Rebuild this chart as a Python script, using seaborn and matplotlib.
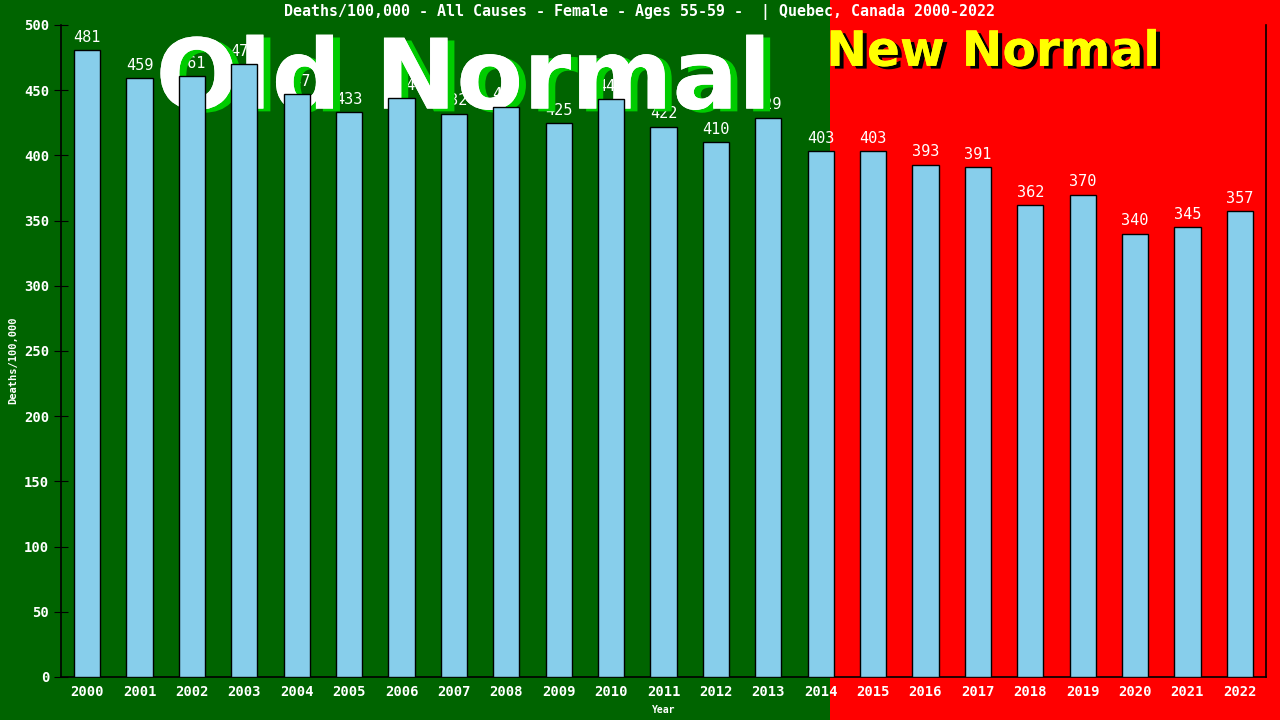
import matplotlib
matplotlib.use("Agg")
import matplotlib.pyplot as plt
import matplotlib.patheffects as pe
from matplotlib.patches import Rectangle
import seaborn as sns
import pandas as pd

# data
years = [str(y) for y in range(2000, 2023)]
deaths = [481, 459, 461, 470, 447, 433, 444, 432, 437, 425, 443, 422, 410, 429,
          403, 403, 393, 391, 362, 370, 340, 345, 357]
yticks = list(range(0, 501, 50))
title = "Deaths/100,000 - All Causes - Female - Ages 55-59 -  | Quebec, Canada 2000-2022"

df = pd.DataFrame({"Year": years, "Deaths": deaths})

sns.set_style("white")
plt.rcParams['font.family'] = ['DejaVu Sans Mono', 'DejaVu Sans']

fig = plt.figure(figsize=(12.8, 7.2), dpi=100)
# background: green "old normal" and red "new normal"
split = 830 / 1280
fig.patches.append(Rectangle((0, 0), split, 1, transform=fig.transFigure,
                             facecolor="#006400", edgecolor="none", zorder=-10))
fig.patches.append(Rectangle((split, 0), 1 - split, 1, transform=fig.transFigure,
                             facecolor="#ff0000", edgecolor="none", zorder=-10))

ax = fig.add_axes([61 / 1280, 43 / 720, 1205 / 1280, 652 / 720])
ax.set_facecolor("none")

sns.barplot(data=df, x="Year", y="Deaths", color="#87CEEB", width=0.5,
            saturation=1, edgecolor="black", linewidth=1, ax=ax, zorder=3)

for i, v in enumerate(deaths):
    ax.text(i, v + 4, str(v), ha="center", va="bottom", color="white",
            fontsize=11, zorder=1)

ax.set_xlim(-0.5, len(years) - 0.5)
ax.set_ylim(0, 500)
ax.set_yticks(yticks)

# big watermark texts
ax.text(0.362, 0.886, "Old Normal", transform=fig.transFigure, ha="center", va="center",
        fontsize=70, fontweight="bold", color="white", family="DejaVu Sans", zorder=2,
        path_effects=[pe.withSimplePatchShadow(offset=(5, -2), shadow_rgbFace="#00cc00", alpha=1),
                      pe.Normal()])
ax.text(0.776, 0.928, "New Normal", transform=fig.transFigure, ha="center", va="center",
        fontsize=35, fontweight="bold", color="yellow", family="DejaVu Sans", zorder=2,
        path_effects=[pe.withSimplePatchShadow(offset=(3, -2), shadow_rgbFace="black", alpha=1),
                      pe.Normal()])

fig.text(0.5, 0.983, title, ha="center", va="center", color="white", fontsize=10.8,
         fontweight="bold")

ax.spines["top"].set_visible(False)
for s in ["left", "bottom", "right"]:
    ax.spines[s].set_color("black")
    ax.spines[s].set_linewidth(1.2)

ax.tick_params(axis="y", direction="inout", length=10, colors="black", labelcolor="white",
               labelsize=10, left=True)
ax.tick_params(axis="x", length=0, labelcolor="white", labelsize=10, pad=6)
for lab in ax.get_xticklabels() + ax.get_yticklabels():
    lab.set_fontweight("bold")

ax.set_xlabel("Year", color="white", fontsize=7, fontweight="bold", labelpad=4)
ax.set_ylabel("")
fig.text(13 / 1280, 0.5, "Deaths/100,000", rotation=90, ha="center", va="center",
         color="white", fontsize=7.5, fontweight="bold")

fig.savefig("out.png", dpi=100)
